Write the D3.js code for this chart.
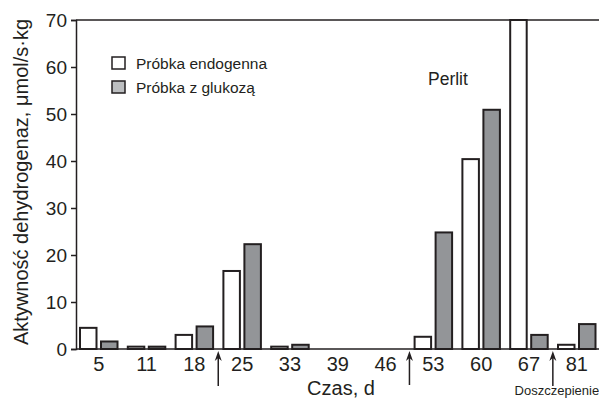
<!DOCTYPE html>
<html>
<head>
<meta charset="utf-8">
<script src="https://cdn.jsdelivr.net/npm/d3@7"></script>
<style>
  html, body { margin: 0; padding: 0; background: #fff; }
  svg { display: block; font-family: "Liberation Sans", Arial, sans-serif; }
</style>
</head>
<body>
<svg id="chart" width="599" height="399"></svg>
<script>
// Dehydrogenase activity per sampling day
const days = ["5", "11", "18", "25", "33", "39", "46", "53", "60", "67", "81"];
const endogenous = [4.5, 0.5, 3.0, 16.6, 0.5, 0, 0, 2.6, 40.4, 70, 0.9];
const withGlucose = [1.6, 0.5, 4.8, 22.3, 0.9, 0, 0, 24.8, 50.9, 3.0, 5.3];
const yTicks = [0, 10, 20, 30, 40, 50, 60, 70];
const seriesNames = ["Próbka endogenna", "Próbka z glukozą"];
// arrows placed between these pairs of days
const arrowsBetween = [["18", "25"], ["46", "53"], ["67", "81"]];

const svg = d3.select("#chart");
const W = 599, H = 399;
const m = { left: 76, right: 0, top: 20, bottom: 50 };
const ink = "#231f20";

const x = d3.scaleBand().domain(days).range([80, 80 + 47.8 * days.length]).paddingInner(0).paddingOuter(0);
const y = d3.scaleLinear().domain([0, 70]).range([H - m.bottom, m.top]);
const barW = 16.5, gap = 4.5;

// frame: top rule and baseline
svg.append("line").attr("x1", m.left).attr("x2", W).attr("y1", y(70)).attr("y2", y(70))
  .attr("stroke", ink).attr("stroke-width", 1.5);
svg.append("line").attr("x1", m.left).attr("x2", W).attr("y1", y(0)).attr("y2", y(0))
  .attr("stroke", ink).attr("stroke-width", 1.5);

// y axis
const yAxis = svg.append("g").attr("transform", `translate(${m.left},0)`)
  .call(d3.axisLeft(y).tickValues(yTicks).tickSize(5).tickPadding(4));
yAxis.select(".domain").attr("stroke", ink).attr("stroke-width", 1.5);
yAxis.selectAll(".tick line").attr("stroke", ink).attr("stroke-width", 1.5);
yAxis.selectAll("text").attr("font-size", 19).attr("fill", ink)
  .attr("font-family", "Liberation Sans, Arial, sans-serif");

// bars
const groups = svg.append("g").selectAll("g").data(days).join("g")
  .attr("transform", d => `translate(${x(d)},0)`);
groups.append("rect")
  .attr("x", 0).attr("width", barW)
  .attr("y", (d, i) => y(endogenous[i]))
  .attr("height", (d, i) => y(0) - y(endogenous[i]))
  .attr("fill", "#fff").attr("stroke", ink).attr("stroke-width", 2)
  .attr("display", (d, i) => endogenous[i] > 0 ? null : "none");
groups.append("rect")
  .attr("x", barW + gap).attr("width", barW)
  .attr("y", (d, i) => y(withGlucose[i]))
  .attr("height", (d, i) => y(0) - y(withGlucose[i]))
  .attr("fill", "#939598").attr("stroke", ink).attr("stroke-width", 2)
  .attr("display", (d, i) => withGlucose[i] > 0 ? null : "none");

// x tick labels centred under each pair
const pairMid = d => x(d) + (2 * barW + gap) / 2;
svg.append("g").selectAll("text").data(days).join("text")
  .attr("x", d => pairMid(d)).attr("y", y(0) + 22)
  .attr("text-anchor", "middle").attr("font-size", 20).attr("fill", ink)
  .text(d => d);

// arrows
const arrowX = ([a, b]) => (x(a) + 2 * barW + gap + x(b)) / 2;
const arrowBottoms = [386, 385, 386];
arrowsBetween.forEach((pair, i) => {
  const ax = arrowX(pair);
  svg.append("line").attr("x1", ax).attr("x2", ax)
    .attr("y1", arrowBottoms[i]).attr("y2", y(0) + 6)
    .attr("stroke", ink).attr("stroke-width", 1.5);
  svg.append("path")
    .attr("d", `M${ax},${y(0) + 2} L${ax - 3.5},${y(0) + 12} L${ax},${y(0) + 9} L${ax + 3.5},${y(0) + 12} Z`)
    .attr("fill", ink);
});

svg.append("text").attr("x", arrowX(arrowsBetween[2]) + 4).attr("y", 395)
  .attr("text-anchor", "middle").attr("font-size", 13).attr("fill", ink)
  .text("Doszczepienie");

// axis titles
svg.append("text").attr("x", 341).attr("y", 395)
  .attr("text-anchor", "middle").attr("font-size", 20).attr("fill", ink)
  .text("Czas, d");
svg.append("text")
  .attr("transform", `translate(28,182) rotate(-90)`)
  .attr("text-anchor", "middle").attr("font-size", 20).attr("fill", ink)
  .text("Aktywność dehydrogenaz, μmol/s·kg");

// annotation
svg.append("text").attr("x", 428).attr("y", 85).attr("font-size", 17.5).attr("fill", ink)
  .text("Perlit");

// legend
const legend = svg.append("g").attr("transform", "translate(112,57)");
[["#fff"], ["#bcbec0"]].forEach(([fill], i) => {
  legend.append("rect").attr("x", 0).attr("y", i * 24).attr("width", 13).attr("height", 12)
    .attr("fill", fill).attr("stroke", ink).attr("stroke-width", 1.5);
  legend.append("text").attr("x", 24).attr("y", i * 24 + 11.5)
    .attr("font-size", 15.5).attr("fill", ink).text(seriesNames[i]);
});
</script>
</body>
</html>
